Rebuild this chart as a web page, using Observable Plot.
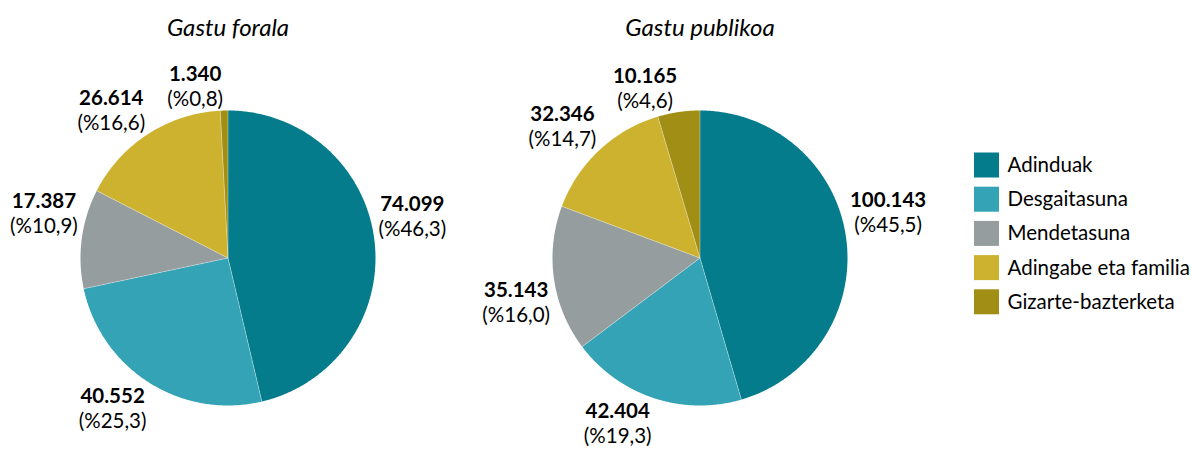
<!DOCTYPE html>
<html>
<head>
<meta charset="utf-8">
<script src="https://cdn.jsdelivr.net/npm/d3@7"></script>
<script src="https://cdn.jsdelivr.net/npm/@observablehq/plot@0.6"></script>
<style>
  html, body { margin: 0; padding: 0; background: #fff; }
  #chart { width: 1191px; height: 451px; }
</style>
</head>
<body>
<div id="chart"></div>
<script>
// ---- Data ----
const categories = ["Adinduak", "Desgaitasuna", "Mendetasuna", "Adingabe eta familia", "Gizarte-bazterketa"];
const colors = ["#047C8B", "#33A3B5", "#959D9F", "#CCB22E", "#A18E14"];
const titles = ["Gastu forala", "Gastu publikoa"];
const foralValues = [74099, 40552, 17387, 26614, 1340];
const foralPct = [46.3, 25.3, 10.9, 16.6, 0.8];
const publikoValues = [100143, 42404, 35143, 32346, 10165];
const publikoPct = [45.5, 19.3, 16.0, 14.7, 4.6];

// ---- Layout ----
const W = 1191, H = 451;
const R = 147.5;
const centers = [[227.5, 257.5], [699.5, 257.5]];
const FONT = "Lato";
const labelSize = 20.5;
const lineGap = 25;

const loc = d3.formatLocale({decimal: ",", thousands: ".", grouping: [3], currency: ["", ""]});
const fmtVal = loc.format(",d");
const fmtPct = loc.format(".1f");

const canvas = document.createElement("canvas");
const ctx = canvas.getContext("2d");
function textW(s, weight) {
  ctx.font = `${weight} ${labelSize}px ${FONT}`;
  return ctx.measureText(s).width;
}

const series = [
  {title: titles[0], values: foralValues, pct: foralPct},
  {title: titles[1], values: publikoValues, pct: publikoPct}
];

const polys = [], seps = [], labels = [], heads = [];
series.forEach((s, k) => {
  const [cx, cy] = centers[k];
  heads.push({x: cx, y: 28, t: s.title});
  const arcs = d3.pie().sort(null).value(d => d)(s.values);
  arcs.forEach((a, i) => {
    const key = k + "-" + i;
    const a0 = a.startAngle, a1 = a.endAngle;
    const n = Math.max(2, Math.ceil((a1 - a0) / 0.01));
    polys.push({key, cat: categories[i], x: cx, y: cy});
    for (let j = 0; j <= n; j++) {
      const t = a0 + (a1 - a0) * j / n;
      polys.push({key, cat: categories[i], x: cx + R * Math.sin(t), y: cy - R * Math.cos(t)});
    }
    seps.push({x1: cx, y1: cy, x2: cx + R * Math.sin(a0), y2: cy - R * Math.cos(a0)});
    // label box
    const m = (a0 + a1) / 2;
    const sx = Math.sin(m), sy = -Math.cos(m);
    const ex = cx + (R + 3) * sx, ey = cy + (R + 3) * sy;
    const v = fmtVal(s.values[i]);
    const p = "(%" + fmtPct(s.pct[i]) + ")";
    const bw = Math.max(textW(v, "bold"), textW(p, "normal")) + 2;
    const bh = 48 - 4 * Math.max(0, -sy);
    const left = sx >= 0 ? ex : ex - bw;
    const top = sy < 0 ? ey - bh : ey;
    labels.push({x: left + bw / 2, y1: top + 11, y2: top + 11 + lineGap, v, p});
  });
});

const legend = categories.map((c, i) => ({cat: c, y: 165 + i * 34.2}));

const chart = Plot.plot({
  width: W,
  height: H,
  margin: 0,
  x: {domain: [0, W], range: [0, W], axis: null},
  y: {domain: [0, H], range: [0, H], axis: null},
  color: {domain: categories, range: colors},
  style: {fontFamily: FONT, background: "#fff"},
  marks: [
    Plot.line(polys, {x: "x", y: "y", z: "key", fill: "cat", stroke: "none", curve: "linear"}),
    Plot.link(seps, {x1: "x1", y1: "y1", x2: "x2", y2: "y2", stroke: "#fff", strokeWidth: 0.5, strokeOpacity: 0.7}),
    Plot.text(heads, {x: "x", y: "y", text: "t", fontSize: 24, fontStyle: "italic", fill: "#000"}),
    Plot.text(labels, {x: "x", y: "y1", text: "v", fontSize: labelSize, fontWeight: "bold", fill: "#000"}),
    Plot.text(labels, {x: "x", y: "y2", text: "p", fontSize: labelSize, fill: "#000"}),
    Plot.rect(legend, {x1: d => 974, x2: d => 999, y1: d => d.y - 12.5, y2: d => d.y + 12.5, fill: "cat"}),
    Plot.text(legend, {x: d => 1007, y: "y", text: "cat", textAnchor: "start", fontSize: 20.5, fill: "#000"})
  ]
});
document.getElementById("chart").appendChild(chart);
</script>
</body>
</html>
